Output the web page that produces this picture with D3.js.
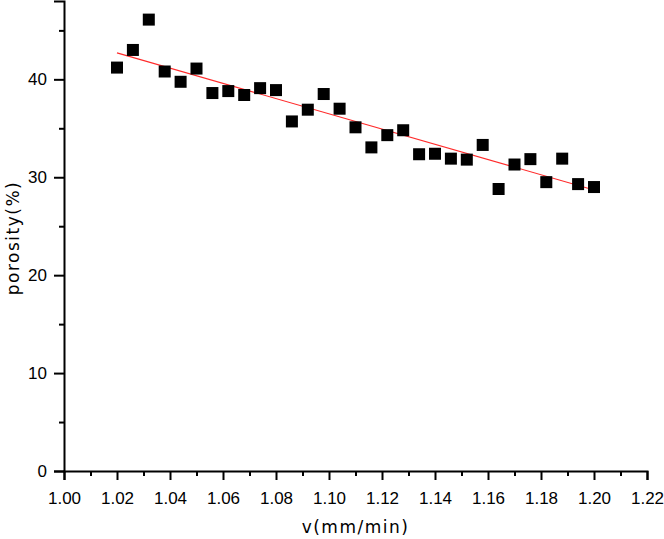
<!DOCTYPE html>
<html>
<head>
<meta charset="utf-8">
<script src="https://cdn.jsdelivr.net/npm/d3@7"></script>
<style>
  body { margin: 0; background: #fff; }
  svg { display: block; }
  text { font-family: "Liberation Sans", Arial, sans-serif; fill: #000; }
</style>
</head>
<body>
<script>
// speed values (mm/min) and measured porosity (%)
var speed = [1.020, 1.026, 1.032, 1.038, 1.044, 1.050, 1.056, 1.062, 1.068, 1.074,
             1.080, 1.086, 1.092, 1.098, 1.104, 1.110, 1.116, 1.122, 1.128, 1.134,
             1.140, 1.146, 1.152, 1.158, 1.164, 1.170, 1.176, 1.182, 1.188, 1.194, 1.200];
var porosity = [41.2, 43.0, 46.1, 40.8, 39.75, 41.1, 38.6, 38.8, 38.4, 39.1,
                38.9, 35.7, 36.9, 38.5, 37.0, 35.1, 33.05, 34.3, 34.8, 32.35,
                32.4, 31.9, 31.8, 33.3, 28.8, 31.3, 31.85, 29.5, 31.9, 29.3, 29.0];

// linear fit endpoints
var fitX = [1.02, 1.20];
var fitY = [42.7, 28.7];

var xTicks = [1.00, 1.02, 1.04, 1.06, 1.08, 1.10, 1.12, 1.14, 1.16, 1.18, 1.20, 1.22];
var xMinor = [1.01, 1.03, 1.05, 1.07, 1.09, 1.11, 1.13, 1.15, 1.17, 1.19, 1.21];
var yTicks = [0, 10, 20, 30, 40];
var yMinor = [5, 15, 25, 35, 45];

var width = 664, height = 539;

var x = d3.scaleLinear().domain([1.00, 1.22]).range([64, 647]);
var y = d3.scaleLinear().domain([0, 48]).range([471, 1]);

var svg = d3.select("body").append("svg")
    .attr("width", width)
    .attr("height", height);

// x axis
svg.append("g")
    .attr("transform", "translate(0," + y(0) + ")")
    .call(d3.axisBottom(x).tickValues(xTicks).tickSizeOuter(0).tickSize(9).tickPadding(12)
      .tickFormat(d3.format(".2f")));
svg.append("g")
    .attr("transform", "translate(0," + y(0) + ")")
    .call(d3.axisBottom(x).tickValues(xMinor).tickSizeOuter(0).tickSize(5).tickFormat(""))
    .select(".domain").remove();

// y axis
svg.append("g")
    .attr("transform", "translate(" + x(1.00) + ",0)")
    .call(d3.axisLeft(y).tickValues(yTicks).tickSizeOuter(0).tickSize(10).tickPadding(7));
svg.append("g")
    .attr("transform", "translate(" + x(1.00) + ",0)")
    .call(d3.axisLeft(y).tickValues(yMinor).tickSizeOuter(0).tickSize(5).tickFormat(""))
    .select(".domain").remove();

svg.selectAll(".domain, .tick line")
    .attr("stroke", "#000")
    .attr("stroke-width", 2);
svg.selectAll(".tick text")
    .style("font-size", "17px")
    .style("font-family", "'Liberation Sans', Arial, sans-serif");

// axis titles
svg.append("text")
    .attr("x", (x(1.00) + x(1.22)) / 2)
    .attr("y", 533)
    .attr("text-anchor", "middle")
    .style("font-family", "'DejaVu Sans', sans-serif")
    .style("font-size", "17px")
    .style("letter-spacing", "1.5px")
    .text("v(mm/min)");

svg.append("text")
    .attr("transform", "translate(19," + 238 + ") rotate(-90)")
    .attr("text-anchor", "middle")
    .style("font-family", "'DejaVu Sans', sans-serif")
    .style("font-size", "17px")
    .style("letter-spacing", "1.5px")
    .text("porosity(%)");

// fit line
svg.append("line")
    .attr("x1", x(fitX[0])).attr("y1", y(fitY[0]))
    .attr("x2", x(fitX[1])).attr("y2", y(fitY[1]))
    .attr("stroke", "#ff2a2a")
    .attr("stroke-width", 1.1);

// points
var s = 12;
svg.selectAll(".pt")
    .data(speed)
  .enter().append("rect")
    .attr("class", "pt")
    .attr("x", function(d) { return x(d) - s / 2; })
    .attr("y", function(d, i) { return y(porosity[i]) - s / 2; })
    .attr("width", s)
    .attr("height", s)
    .attr("fill", "#000");
</script>
</body>
</html>
